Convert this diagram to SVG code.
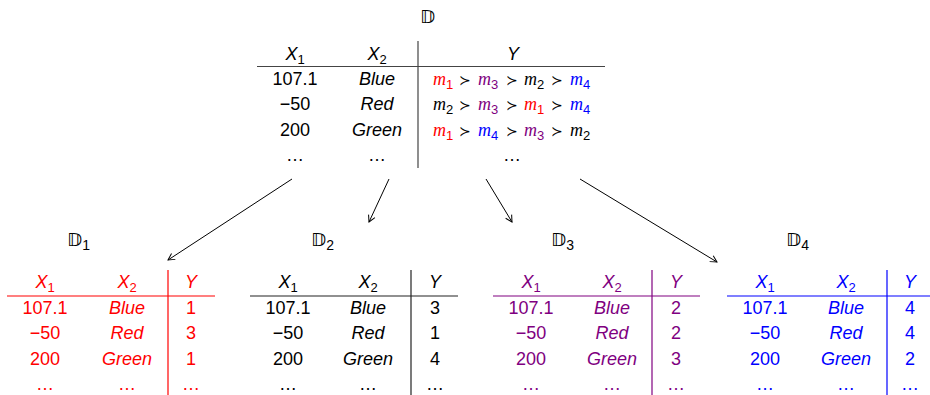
<svg xmlns="http://www.w3.org/2000/svg" width="930" height="395" viewBox="0 0 930 395">
<style>
text{font-family:"Liberation Sans",Arial,sans-serif;font-size:18px;fill:#000}
.c{text-anchor:middle}
.i{font-style:italic}
.sub{font-size:13px;font-style:normal}
.bb{font-family:"DejaVu Sans","Noto Sans",sans-serif;font-size:18.5px;fill:#000}
.bsub{font-family:"Liberation Sans",Arial,sans-serif;font-size:14px}
.m{font-family:"Liberation Serif","Times New Roman",serif;font-style:italic;font-size:18px}
.succ{font-family:"DejaVu Sans",sans-serif;font-size:14px}
.r{fill:#ff0000}.p{fill:#800080}.b{fill:#0000ff}
.rs{stroke:#ff0000}.ps{stroke:#800080}.bs{stroke:#0000ff}.ks{stroke:#222}
line.rule{stroke-width:1.2}
.conn line{stroke:#000;stroke-width:1;marker-end:url(#ah)}
</style>
<defs>
<marker id="ah" markerWidth="10" markerHeight="10" refX="0" refY="0" viewBox="-8 -5 10 10" orient="auto" markerUnits="userSpaceOnUse">
<path d="M-6.5,-3.5 L0,0 L-6.5,3.5" fill="none" stroke="#000" stroke-width="1"/>
</marker>
</defs>

<g id="D">
<text class="bb" x="420" y="23">𝔻</text>
<line class="rule" x1="257" y1="66.5" x2="605" y2="66.5" stroke="#444"/>
<line class="rule" x1="418" y1="41" x2="418" y2="168" stroke="#444"/>
<text class="c i" x="295" y="60">X<tspan class="sub" dy="4">1</tspan></text>
<text class="c i" x="377" y="60">X<tspan class="sub" dy="4">2</tspan></text>
<text class="c i" x="513" y="60">Y</text>
<text class="c" x="295" y="84.5">107.1</text>
<text class="c" x="295" y="110">−50</text>
<text class="c" x="295" y="135.5">200</text>
<text class="c" x="295" y="161">…</text>
<text class="c i" x="377" y="84.5">Blue</text>
<text class="c i" x="377" y="110">Red</text>
<text class="c i" x="377" y="135.5">Green</text>
<text class="c" x="377" y="161">…</text>
<text class="c" x="512" y="161">…</text>
<!-- row 1 -->
<text y="84.5"><tspan class="m r" x="433">m</tspan><tspan class="sub r" dy="4">1</tspan><tspan class="succ" x="459" dy="-4">≻</tspan><tspan class="m p" x="478">m</tspan><tspan class="sub p" dy="4">3</tspan><tspan class="succ" x="506" dy="-4">≻</tspan><tspan class="m" x="524">m</tspan><tspan class="sub" dy="4">2</tspan><tspan class="succ" x="551" dy="-4">≻</tspan><tspan class="m b" x="570">m</tspan><tspan class="sub b" dy="4">4</tspan></text>
<!-- row 2 -->
<text y="110"><tspan class="m" x="433">m</tspan><tspan class="sub" dy="4">2</tspan><tspan class="succ" x="459" dy="-4">≻</tspan><tspan class="m p" x="478">m</tspan><tspan class="sub p" dy="4">3</tspan><tspan class="succ" x="506" dy="-4">≻</tspan><tspan class="m r" x="524">m</tspan><tspan class="sub r" dy="4">1</tspan><tspan class="succ" x="551" dy="-4">≻</tspan><tspan class="m b" x="570">m</tspan><tspan class="sub b" dy="4">4</tspan></text>
<!-- row 3 -->
<text y="135.5"><tspan class="m r" x="433">m</tspan><tspan class="sub r" dy="4">1</tspan><tspan class="succ" x="459" dy="-4">≻</tspan><tspan class="m b" x="478">m</tspan><tspan class="sub b" dy="4">4</tspan><tspan class="succ" x="506" dy="-4">≻</tspan><tspan class="m p" x="524">m</tspan><tspan class="sub p" dy="4">3</tspan><tspan class="succ" x="551" dy="-4">≻</tspan><tspan class="m" x="570">m</tspan><tspan class="sub" dy="4">2</tspan></text>
</g>

<g id="D1" transform="translate(7,0)">
<text class="bb" x="60" y="246">𝔻<tspan class="bsub" dy="4">1</tspan></text>
<line class="rule rs" x1="0" y1="296" x2="208" y2="296"/>
<line class="rule rs" x1="161" y1="270" x2="161" y2="395"/>
<text class="c i r" x="38" y="288">X<tspan class="sub" dy="4">1</tspan></text>
<text class="c i r" x="120" y="288">X<tspan class="sub" dy="4">2</tspan></text>
<text class="c i r" x="184" y="288">Y</text>
<text class="c r" x="38" y="313.5">107.1</text>
<text class="c r" x="38" y="339">−50</text>
<text class="c r" x="38" y="364.5">200</text>
<text class="c r" x="38" y="390">…</text>
<text class="c i r" x="120" y="313.5">Blue</text>
<text class="c i r" x="120" y="339">Red</text>
<text class="c i r" x="120" y="364.5">Green</text>
<text class="c r" x="120" y="390">…</text>
<text class="c r" x="184" y="313.5">1</text>
<text class="c r" x="184" y="339">3</text>
<text class="c r" x="184" y="364.5">1</text>
<text class="c r" x="184" y="390">…</text>
</g>

<g id="D2" transform="translate(250,0)">
<text class="bb" x="61" y="246">𝔻<tspan class="bsub" dy="4">2</tspan></text>
<line class="rule ks" x1="0" y1="296" x2="208" y2="296"/>
<line class="rule ks" x1="161" y1="270" x2="161" y2="395"/>
<text class="c i" x="38" y="288">X<tspan class="sub" dy="4">1</tspan></text>
<text class="c i" x="118" y="288">X<tspan class="sub" dy="4">2</tspan></text>
<text class="c i" x="185" y="288">Y</text>
<text class="c" x="38" y="313.5">107.1</text>
<text class="c" x="38" y="339">−50</text>
<text class="c" x="38" y="364.5">200</text>
<text class="c" x="38" y="390">…</text>
<text class="c i" x="118" y="313.5">Blue</text>
<text class="c i" x="118" y="339">Red</text>
<text class="c i" x="118" y="364.5">Green</text>
<text class="c" x="118" y="390">…</text>
<text class="c" x="185" y="313.5">3</text>
<text class="c" x="185" y="339">1</text>
<text class="c" x="185" y="364.5">4</text>
<text class="c" x="185" y="390">…</text>
</g>

<g id="D3" transform="translate(493,0)">
<text class="bb" x="58" y="246">𝔻<tspan class="bsub" dy="4">3</tspan></text>
<line class="rule ps" x1="0" y1="296" x2="207" y2="296"/>
<line class="rule ps" x1="159" y1="270" x2="159" y2="395"/>
<text class="c i p" x="38" y="288">X<tspan class="sub" dy="4">1</tspan></text>
<text class="c i p" x="119" y="288">X<tspan class="sub" dy="4">2</tspan></text>
<text class="c i p" x="183" y="288">Y</text>
<text class="c p" x="38" y="313.5">107.1</text>
<text class="c p" x="38" y="339">−50</text>
<text class="c p" x="38" y="364.5">200</text>
<text class="c p" x="38" y="390">…</text>
<text class="c i p" x="119" y="313.5">Blue</text>
<text class="c i p" x="119" y="339">Red</text>
<text class="c i p" x="119" y="364.5">Green</text>
<text class="c p" x="119" y="390">…</text>
<text class="c p" x="183" y="313.5">2</text>
<text class="c p" x="183" y="339">2</text>
<text class="c p" x="183" y="364.5">3</text>
<text class="c p" x="183" y="390">…</text>
</g>

<g id="D4" transform="translate(727,0)">
<text class="bb" x="59" y="246">𝔻<tspan class="bsub" dy="4">4</tspan></text>
<line class="rule bs" x1="0" y1="296" x2="210" y2="296"/>
<line class="rule bs" x1="160" y1="270" x2="160" y2="395"/>
<text class="c i b" x="38" y="288">X<tspan class="sub" dy="4">1</tspan></text>
<text class="c i b" x="119" y="288">X<tspan class="sub" dy="4">2</tspan></text>
<text class="c i b" x="183" y="288">Y</text>
<text class="c b" x="38" y="313.5">107.1</text>
<text class="c b" x="38" y="339">−50</text>
<text class="c b" x="38" y="364.5">200</text>
<text class="c b" x="38" y="390">…</text>
<text class="c i b" x="119" y="313.5">Blue</text>
<text class="c i b" x="119" y="339">Red</text>
<text class="c i b" x="119" y="364.5">Green</text>
<text class="c b" x="119" y="390">…</text>
<text class="c b" x="183" y="313.5">4</text>
<text class="c b" x="183" y="339">4</text>
<text class="c b" x="183" y="364.5">2</text>
<text class="c b" x="183" y="390">…</text>
</g>

<g id="connectors" class="conn">
<line x1="292" y1="179" x2="168" y2="260"/>
<line x1="389" y1="179" x2="369" y2="222"/>
<line x1="486" y1="179" x2="512" y2="222"/>
<line x1="580" y1="179" x2="717" y2="262"/>
</g>
</svg>
